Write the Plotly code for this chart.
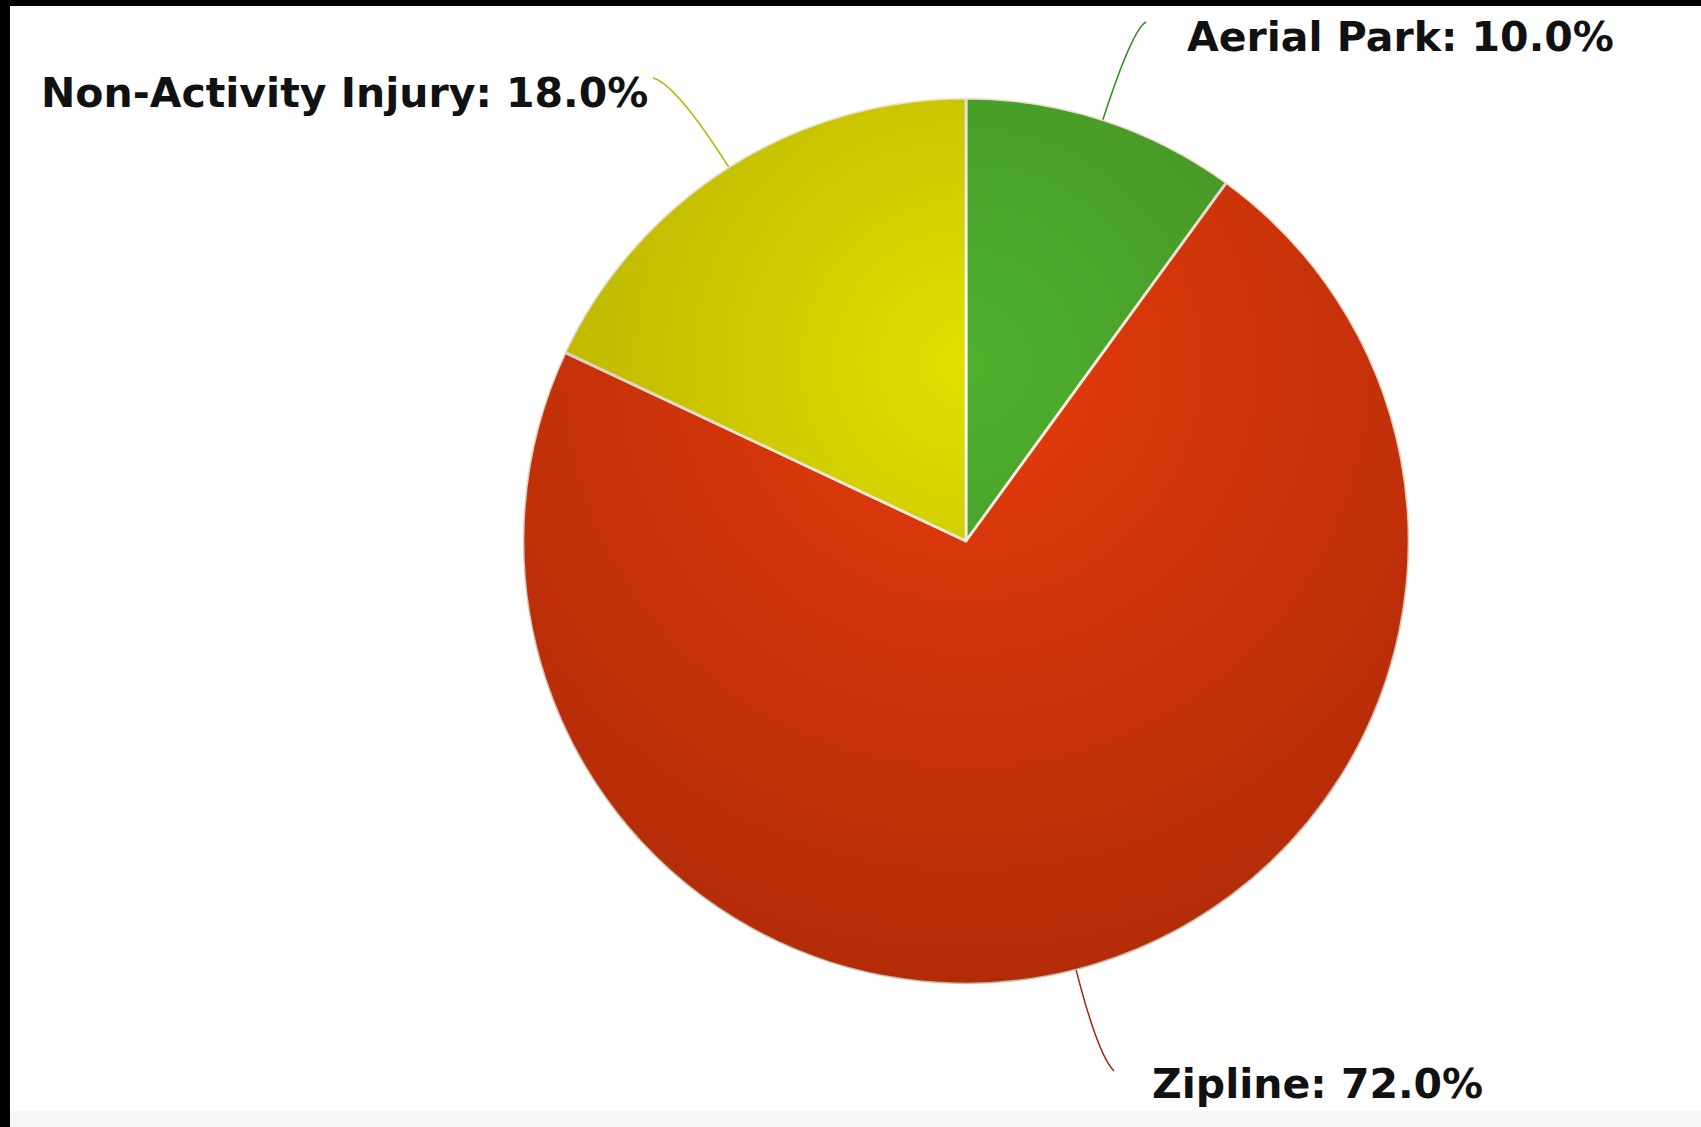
import base64, zlib, struct
import numpy as np
import plotly.graph_objects as go

# ---- data ----
categories = ["Aerial Park", "Zipline", "Non-Activity Injury"]
values = [10.0, 72.0, 18.0]
colors = ["#4eb22e", "#e63c0c", "#e0e000"]
leader_colors = ["#2f8f20", "#a8200c", "#b4b400"]
label_texts = [f"{c}: {v:.1f}%" for c, v in zip(categories, values)]

W, H = 1701, 1127
# pie geometry (pixels)
CX, CY, R = 966, 541, 443
dom_x = [(CX - R) / W, (CX + R) / W]
dom_y = [1 - (CY + R) / H, 1 - (CY - R) / H]

fig = go.Figure()
fig.add_trace(go.Pie(
    labels=categories, values=values, sort=False, direction="clockwise", rotation=0,
    marker=dict(colors=colors, line=dict(color="#fffcee", width=2.8)),
    textinfo="none", hoverinfo="label+percent", showlegend=False,
    domain=dict(x=dom_x, y=dom_y),
))

# radial shading overlay (Highcharts-like radial gradient cx=.5, cy=.3, r=.7)
D = 2 * R
yy, xx = np.mgrid[0:D, 0:D].astype(float)
xx += 0.5; yy += 0.5
gx, gy, gr = R, 0.3 * D, 0.7 * D
t = np.clip(np.hypot(xx - gx, yy - gy) / gr, 0, 1)
alpha = 0.27 * t
dist = np.hypot(xx - R, yy - R)
mask = np.clip(R - dist + 0.5, 0, 1)
a = (alpha * mask * 255).astype(np.uint8)
rgba = np.zeros((D, D, 4), dtype=np.uint8)
rgba[..., 0] = 40
rgba[..., 3] = a
raw = b"".join(b"\x00" + rgba[i].tobytes() for i in range(D))
def chunk(tag, data):
    c = struct.pack(">I", len(data)) + tag + data
    return c + struct.pack(">I", zlib.crc32(tag + data) & 0xffffffff)
png = b"\x89PNG\r\n\x1a\n" + chunk(b"IHDR", struct.pack(">IIBBBBB", D, D, 8, 6, 0, 0, 0)) \
    + chunk(b"IDAT", zlib.compress(raw, 9)) + chunk(b"IEND", b"")
uri = "data:image/png;base64," + base64.b64encode(png).decode()

images = [dict(source=uri, xref="paper", yref="paper", x=(CX - R) / W, y=1 - (CY - R) / H,
               sizex=D / W, sizey=D / H, sizing="stretch", xanchor="left", yanchor="top",
               layer="above")]

def px(x, y):
    return x / W, 1 - y / H

# label layout (pixel anchors) and leader lines computed from slice angles
label_pos = [(1185, 37, "left"), (1150, 1084, "left"), (650, 93, "right")]
leader_end = [(1146, 22), (1114, 1071), (653, 78)]
leader_len = [95, 88, 98]

shapes = []
annotations = []
cum = 0.0
total = sum(values)
for i, v in enumerate(values):
    mid = (cum + v / 2) / total * 2 * np.pi
    cum += v
    ux, uy = np.sin(mid), -np.cos(mid)
    x0, y0 = CX + R * ux, CY + R * uy
    cx_, cy_ = x0 + leader_len[i] * ux, y0 + leader_len[i] * uy
    ex, ey = leader_end[i]
    p0 = px(x0, y0); pc = px(cx_, cy_); pe = px(ex, ey)
    shapes.append(dict(type="path", xref="paper", yref="paper",
                       path=f"M {p0[0]},{p0[1]} Q {pc[0]},{pc[1]} {pe[0]},{pe[1]}",
                       line=dict(color=leader_colors[i], width=1.5)))
    lx, ly, anc = label_pos[i]
    ax, ay = px(lx, ly)
    annotations.append(dict(text=label_texts[i], x=ax, y=ay, xref="paper", yref="paper",
                            xanchor=anc, yanchor="middle", showarrow=False,
                            font=dict(family="DejaVu Sans", size=41, color="#111111", weight="bold")))

# frame decorations: black edges and light strip at bottom
shapes += [
    dict(type="rect", xref="paper", yref="paper", x0=0, x1=10 / W, y0=0, y1=1,
         fillcolor="#000000", line=dict(width=0), layer="above"),
    dict(type="rect", xref="paper", yref="paper", x0=0, x1=1, y0=1 - 6 / H, y1=1,
         fillcolor="#000000", line=dict(width=0), layer="above"),
    dict(type="rect", xref="paper", yref="paper", x0=10 / W, x1=1, y0=0, y1=16 / H,
         fillcolor="#f6f6f6", line=dict(width=0), layer="below"),
]

fig.update_layout(
    width=W, height=H, margin=dict(l=0, r=0, t=0, b=0),
    paper_bgcolor="#ffffff", plot_bgcolor="#ffffff",
    shapes=shapes, annotations=annotations, images=images,
    xaxis=dict(visible=False), yaxis=dict(visible=False),
)

fig.write_html("out.html", config={"displayModeBar": False},
               post_script="document.body.style.margin='0';document.body.style.overflow='hidden';")
